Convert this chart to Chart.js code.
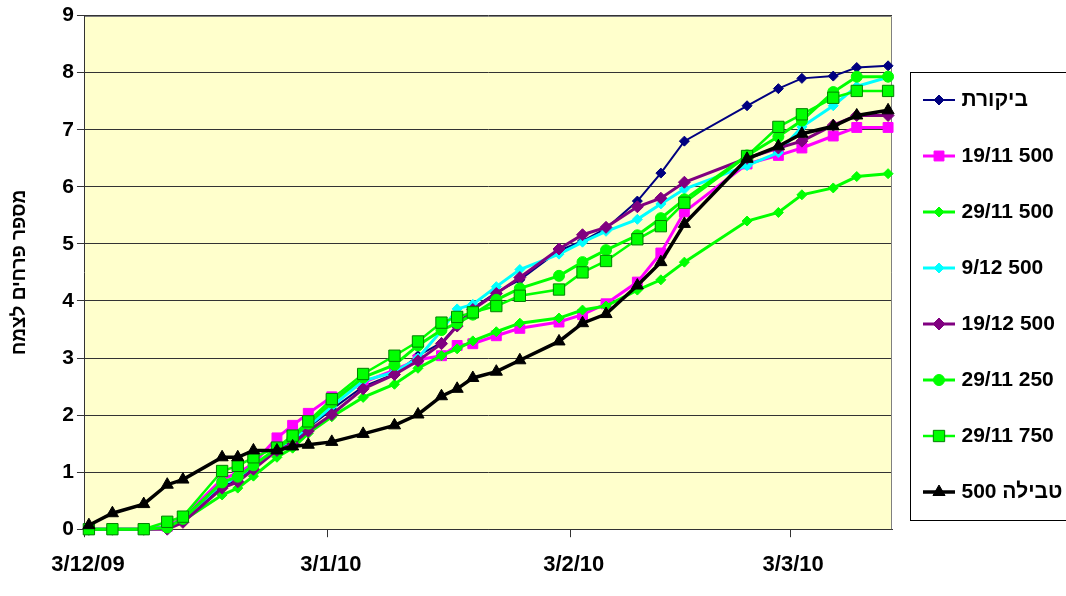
<!DOCTYPE html>
<html>
<head>
<meta charset="utf-8">
<script src="https://cdn.jsdelivr.net/npm/chart.js@4.4.1/dist/chart.umd.min.js"></script>
<style>
  html, body { margin: 0; padding: 0; background: #fff; overflow: hidden; }
</style>
</head>
<body>
<canvas id="chart" width="1066" height="596" dir="rtl"></canvas>
<script>
"use strict";

// days counted from 3/12/09
const days = [0, 3, 7, 10, 12, 17, 19, 21, 24, 26, 28, 31, 35, 39, 42, 45, 47, 49, 52, 55, 60, 63, 66, 70, 73, 76, 84, 88, 91, 95, 98, 102];
const xTickDays = [-0.5, 30.5, 61.5, 89.5];
const xTickLabels = ["3/12/09", "3/1/10", "3/2/10", "3/3/10"];

const seriesNames = ["ביקורת", "500 19/11", "500 29/11", "500 9/12", "500 19/12", "250 29/11", "750 29/11", "טבילה 500"];

const control = [0, 0, 0, 0.03, 0.15, 0.75, 0.85, 1.08, 1.38, 1.52, 1.78, 2.1, 2.5, 2.72, 3.04, 3.27, 3.58, 3.87, 4.15, 4.37, 4.88, 5.05, 5.27, 5.75, 6.24, 6.8, 7.42, 7.72, 7.9, 7.94, 8.09, 8.12];
const d500_1911 = [0, 0, 0, 0.05, 0.2, 0.88, 0.98, 1.15, 1.6, 1.82, 2.03, 2.32, 2.57, 2.79, 2.97, 3.04, 3.22, 3.25, 3.39, 3.52, 3.63, 3.76, 3.95, 4.33, 4.84, 5.56, 6.4, 6.55, 6.68, 6.89, 7.04, 7.04];
const d500_2911 = [0, 0, 0, 0.02, 0.15, 0.6, 0.72, 0.93, 1.26, 1.42, 1.68, 1.97, 2.31, 2.54, 2.82, 3.04, 3.16, 3.3, 3.46, 3.61, 3.7, 3.84, 3.91, 4.19, 4.37, 4.68, 5.4, 5.55, 5.86, 5.98, 6.18, 6.23];
const d500_0912 = [0, 0, 0, 0.03, 0.17, 0.8, 0.9, 1.12, 1.4, 1.55, 1.8, 2.15, 2.6, 2.75, 3.0, 3.48, 3.86, 3.94, 4.25, 4.55, 4.82, 5.03, 5.22, 5.43, 5.7, 5.96, 6.37, 6.6, 7.05, 7.42, 7.76, 7.92];
const d500_1912 = [0, 0, 0, 0, 0.12, 0.72, 0.83, 1.05, 1.38, 1.5, 1.72, 2.01, 2.46, 2.71, 2.95, 3.25, 3.56, 3.85, 4.13, 4.41, 4.91, 5.16, 5.29, 5.65, 5.8, 6.08, 6.5, 6.68, 6.8, 7.08, 7.25, 7.25];
const d250_2911 = [0, 0, 0, 0.03, 0.18, 0.82, 0.92, 1.12, 1.42, 1.6, 1.85, 2.22, 2.66, 2.88, 3.22, 3.49, 3.61, 3.76, 4.02, 4.22, 4.44, 4.68, 4.89, 5.15, 5.45, 5.78, 6.55, 6.88, 7.16, 7.66, 7.93, 7.93];
const d750_2911 = [0, 0, 0, 0.13, 0.22, 1.02, 1.11, 1.26, 1.43, 1.64, 1.89, 2.28, 2.72, 3.04, 3.29, 3.62, 3.72, 3.8, 3.91, 4.09, 4.2, 4.5, 4.7, 5.08, 5.31, 5.72, 6.54, 7.05, 7.27, 7.56, 7.68, 7.68];
const dip500 = [0.07, 0.28, 0.44, 0.78, 0.87, 1.26, 1.26, 1.38, 1.38, 1.45, 1.48, 1.53, 1.67, 1.82, 2.01, 2.33, 2.46, 2.65, 2.76, 2.96, 3.29, 3.61, 3.77, 4.27, 4.68, 5.35, 6.49, 6.71, 6.93, 7.06, 7.25, 7.34];

const seriesValues = [control, d500_1911, d500_2911, d500_0912, d500_1912, d250_2911, d750_2911, dip500];

const styles = [
  { color: "#000080", width: 2, point: "rectRot", radius: 5, fill: "#000080", border: "#000080" },
  { color: "#FF00FF", width: 3, point: "rect", radius: 7, fill: "#FF00FF", border: "#FF00FF" },
  { color: "#00FF00", width: 3, point: "rectRot", radius: 5, fill: "#00FF00", border: "#00FF00" },
  { color: "#00FFFF", width: 3, point: "rectRot", radius: 5, fill: "#00FFFF", border: "#00FFFF" },
  { color: "#800080", width: 3, point: "rectRot", radius: 6, fill: "#800080", border: "#800080" },
  { color: "#00FF00", width: 3, point: "circle", radius: 5.5, fill: "#00FF00", border: "#00FF00" },
  { color: "#00FF00", width: 2.5, point: "rect", radius: 8, fill: "#00FF00", border: "#008000" },
  { color: "#000000", width: 3.5, point: "triangle", radius: 7, fill: "#000000", border: "#000000" },
];

const FONT = "'Liberation Sans', Arial, sans-serif";
Chart.defaults.font.family = FONT;
Chart.defaults.color = "#000";

// legend sample: short line with the marker on it
const makeSwatch = (s) => {
  const c = document.createElement("canvas");
  c.width = 32;
  c.height = 18;
  const g = c.getContext("2d");
  g.strokeStyle = s.color;
  g.lineWidth = s.width;
  g.beginPath();
  g.moveTo(0, 9);
  g.lineTo(32, 9);
  g.stroke();
  g.fillStyle = s.fill;
  g.strokeStyle = s.border;
  g.lineWidth = 1;
  if (Chart.helpers && Chart.helpers.drawPoint) {
    Chart.helpers.drawPoint(g, { pointStyle: s.point, radius: s.radius, borderWidth: 1, rotation: 0 }, 16, 9);
  }
  return c;
};
const swatches = styles.map(makeSwatch);

const frames = {
  id: "frames",
  beforeDraw(chart) {
    const { ctx, chartArea: a } = chart;
    ctx.save();
    ctx.fillStyle = "#FFFFCC";
    ctx.fillRect(a.left, a.top, a.right - a.left, a.bottom - a.top);
    ctx.restore();
  },
  beforeDatasetsDraw(chart) {
    const { ctx, chartArea: a } = chart;
    ctx.save();
    ctx.strokeStyle = "#808080";
    ctx.lineWidth = 1;
    ctx.beginPath();
    ctx.moveTo(a.left, Math.round(a.top) + 0.5);
    ctx.lineTo(Math.round(a.right) - 0.5, Math.round(a.top) + 0.5);
    ctx.lineTo(Math.round(a.right) - 0.5, a.bottom);
    ctx.stroke();
    ctx.restore();
  },
  afterDraw(chart) {
    const { ctx } = chart;
    const lg = chart.legend;
    const boxes = lg.legendHitBoxes;
    if (!boxes || !boxes.length) return;
    const first = boxes[0];
    const last = boxes[boxes.length - 1];
    const top = Math.round(first.top + first.height / 2 - 28) + 0.5;
    const bottom = Math.round(last.top + last.height / 2 + 28) + 0.5;
    const left = Math.round(lg.left + 18) + 0.5;
    ctx.save();
    ctx.strokeStyle = "#000";
    ctx.lineWidth = 1;
    ctx.strokeRect(left, top, chart.width + 10 - left, bottom - top);
    ctx.restore();
  },
};

const datasets = seriesNames.map((name, i) => ({
  label: name,
  data: days.map((d, j) => ({ x: d, y: seriesValues[i][j] })),
  borderColor: styles[i].color,
  borderWidth: styles[i].width,
  pointStyle: styles[i].point,
  pointRadius: styles[i].radius,
  pointBackgroundColor: styles[i].fill,
  pointBorderColor: styles[i].border,
  pointBorderWidth: 1,
  tension: 0,
  clip: false,
  order: seriesNames.length - i,
}));

new Chart(document.getElementById("chart"), {
  type: "line",
  data: { datasets },
  plugins: [frames],
  options: {
    responsive: false,
    animation: false,
    layout: { padding: { left: 4, top: 15, right: 0, bottom: 2.8 } },
    plugins: {
      tooltip: { enabled: false },
      legend: {
        position: "right",
        align: "start",
        maxWidth: 174,
        title: { display: true, text: "", padding: { top: 25.1, bottom: 0 } },
        labels: {
          usePointStyle: true,
          pointStyleWidth: 24,
          padding: 35,
          color: "#000",
          font: { size: 21, weight: "bold" },
          sort: (a, b) => a.datasetIndex - b.datasetIndex,
          generateLabels: (chart) =>
            Chart.defaults.plugins.legend.labels.generateLabels(chart).map((item) => ({
              ...item,
              pointStyle: swatches[item.datasetIndex],
            })),
        },
      },
    },
    scales: {
      x: {
        type: "linear",
        min: -0.5,
        max: 102.5,
        afterBuildTicks: (scale) => {
          scale.ticks = xTickDays.map((v) => ({ value: v }));
        },
        ticks: {
          autoSkip: false,
          maxRotation: 0,
          padding: 14.8,
          labelOffset: 3,
          color: "#000",
          font: { size: 22, weight: "bold" },
          callback: (value, index) => xTickLabels[index],
        },
        grid: { drawOnChartArea: false, drawTicks: true, tickLength: 8, color: "#333" },
        border: { color: "#333" },
      },
      y: {
        min: 0,
        max: 9,
        ticks: {
          stepSize: 1,
          padding: 3,
          color: "#000",
          font: { size: 21, weight: "bold" },
        },
        grid: { color: "#333", lineWidth: 1, tickLength: 8 },
        border: { color: "#333" },
        title: {
          display: true,
          text: "מספר פרחים לצמח",
          color: "#000",
          font: { size: 19, weight: "bold" },
          padding: { top: 4.6, bottom: 27.9 },
        },
      },
    },
  },
});
</script>
</body>
</html>
